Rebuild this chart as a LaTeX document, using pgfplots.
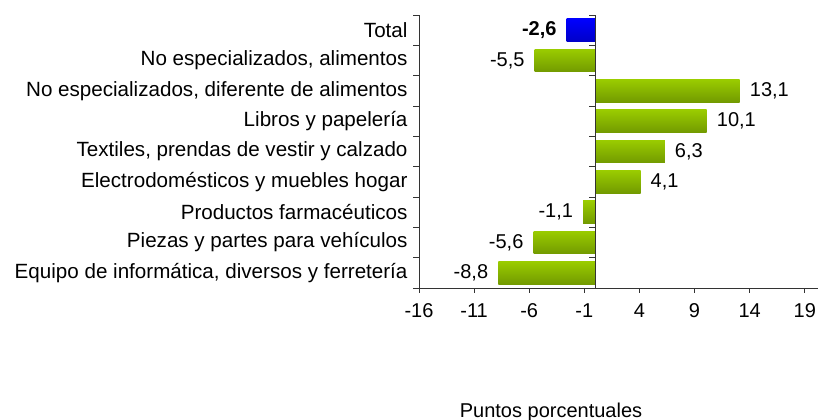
\documentclass[border=0pt]{standalone}
\usepackage{fontspec}
\setmainfont{Liberation Sans}
\usepackage{pgfplots}
\pgfplotsset{compat=1.18}
\definecolor{gtop}{HTML}{9ACC00}
\definecolor{gbot}{HTML}{729A00}
\definecolor{btop}{HTML}{0000FF}
\definecolor{bbot}{HTML}{0000C8}
\definecolor{axgray}{HTML}{333333}
\pgfplotsset{gbar/.style={draw=none, top color=gtop, bottom color=gbot}}
\begin{document}
\begin{tikzpicture}[font=\fontsize{20bp}{24bp}\selectfont]
\useasboundingbox (0,0) rectangle (818bp,420bp);
\begin{axis}[
  at={(419bp,132bp)}, anchor=south west,
  scale only axis, width=399bp, height=273bp,
  xmin=-16, xmax=20.2, ymin=-0.5, ymax=8.5,
  axis lines*=left, axis line style={-, axgray, line width=0.9bp},
  tick align=outside,
  xtick={-16,-11,...,19},
  major tick length=5bp, minor tick length=6bp,
  tick style={axgray, line width=0.9bp},
  ytick={0,...,8},
  major y tick style={draw=none},
  minor ytick={-0.5,0.5,...,8.5},
  yticklabels={{Equipo de informática, diversos y ferretería},
    Piezas y partes para vehículos,
    Productos farmacéuticos,
    Electrodomésticos y muebles hogar,
    {Textiles, prendas de vestir y calzado},
    Libros y papelería,
    {No especializados, diferente de alimentos},
    {No especializados, alimentos},
    Total},
  /pgf/number format/assume math mode=true,
  xticklabel style={font=\fontsize{20bp}{24bp}\selectfont, yshift=-7bp},
  yticklabel style={font=\fontsize{20.6bp}{24bp}\selectfont, xshift=-3bp},
  xbar, bar width=0.75, bar shift=0pt,
  point meta=x,
  nodes near coords={\pgfmathprintnumber[fixed, fixed zerofill, precision=1, use comma, assume math mode=true]{\pgfplotspointmeta}},
  nodes near coords align=horizontal,
  every node near coord/.append style={font=\fontsize{20bp}{24bp}\selectfont, inner xsep=10bp, text=black},
  clip=false,
]
\addplot[gbar] coordinates {(-8.8,0)};
\addplot[gbar] coordinates {(-5.6,1)};
\addplot[gbar] coordinates {(-1.1,2)};
\addplot[gbar] coordinates {(4.1,3)};
\addplot[gbar] coordinates {(6.3,4)};
\addplot[gbar] coordinates {(10.1,5)};
\addplot[gbar] coordinates {(13.1,6)};
\addplot[gbar] coordinates {(-5.5,7)};
\addplot[draw=none, top color=btop, bottom color=bbot,
  every node near coord/.append style={font=\fontsize{20bp}{24bp}\selectfont\bfseries}] coordinates {
  (-2.6,8)};
\draw[axgray, line width=0.9bp] (axis cs:0,-0.5) -- (axis cs:0,8.5);
\pgfplotsinvokeforeach{-0.5,0.5,1.5,2.5,3.5,4.5,5.5,6.5,7.5,8.5}{
  \draw[axgray, line width=0.9bp] (axis cs:0,#1) -- ([xshift=-6bp]axis cs:0,#1);
}
\end{axis}
\node[anchor=base] at (551bp,2.7bp) {Puntos porcentuales};
\end{tikzpicture}
\end{document}
